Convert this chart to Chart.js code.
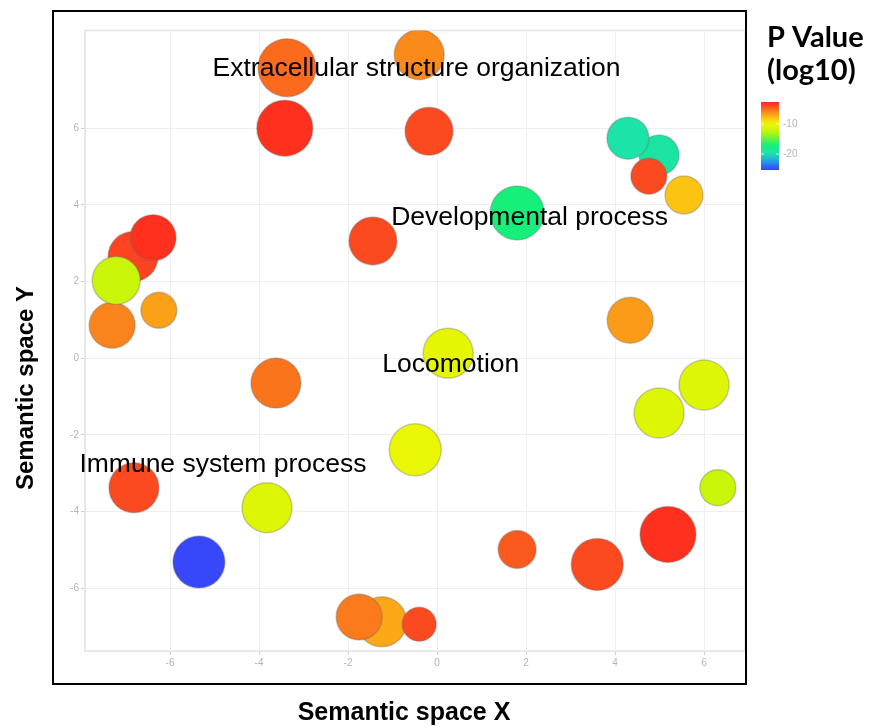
<!DOCTYPE html>
<html>
<head>
<meta charset="utf-8">
<script src="https://cdn.jsdelivr.net/npm/chart.js@4/dist/chart.umd.min.js"></script>
<style>
  html,body{margin:0;padding:0;background:#fff;}
  #wrap{position:relative;width:872px;height:727px;}
  #plot{position:absolute;left:0;top:0;}
  #frame{position:absolute;left:52px;top:10px;width:691px;height:671px;border:2px solid #000;pointer-events:none;}
</style>
</head>
<body>
<div id="wrap">
  <canvas id="plot" width="872" height="727"></canvas>
  <div id="frame"></div>
</div>
<script>
/* REVIGO style semantic space bubble plot */

// GO terms, in drawing order (back to front)
const termX    = [-6.83,-6.38,-7.30,-7.21,-6.25,-3.37,-0.40,-3.42,-0.18, 4.99, 4.29, 4.76, 5.55, 1.80,-1.44, 4.34, 0.25,-3.62, 6.00, 4.99,-0.49,-6.81,-3.82, 6.31, 5.19, 1.80, 3.60,-5.35,-1.24,-1.75,-0.40];
const termY    = [ 2.65, 3.14, 0.86, 2.03, 1.25, 7.58, 7.92, 6.00, 5.92, 5.30, 5.74, 4.75, 4.26, 3.79, 3.06, 0.99, 0.13,-0.65,-0.70,-1.43,-2.39,-3.38,-3.90,-3.38,-4.60,-4.99,-5.38,-5.32,-6.88,-6.75,-6.94];
const termLogP = [-3.8,-3.0,-5.8,-12.0,-6.8,-5.0,-6.0,-3.0,-4.0,-19.2,-19.5,-4.0,-8.0,-17.0,-4.0,-6.6,-10.5,-5.3,-11.0,-11.0,-10.2,-4.0,-11.0,-12.0,-3.0,-4.5,-4.0,-25.0,-7.0,-5.5,-4.0];
const termSize = [25,23,23,24,18,29,25,28,24,20,21,18,19,27,24,23,25,25,25,25,26,25,25,18,28,19,26,26,25,23,17];

const clusterLabels = ['Extracellular structure organization','Developmental process','Locomotion','Immune system process'];
const clusterX = [-0.46, 2.08, 0.31, -4.81];
const clusterY = [ 7.56, 3.66,-0.17, -2.78];

const xTicks = [-6,-4,-2,0,2,4,6];
const yTicks = [-6,-4,-2,0,2,4,6];
const legendTicks = [-10,-20];

// colour scale for log10 p value
const stops = [[-2.7,[255,40,30]],[-4,[251,74,32]],[-6,[250,138,26]],[-8,[252,196,18]],[-10,[238,247,3]],[-12.5,[192,244,10]],[-17,[22,240,122]],[-20,[29,224,176]],[-23,[36,140,240]],[-25.3,[58,62,251]]];
function colorFor(v){
  if(v >= stops[0][0]) return rgb(stops[0][1]);
  for(let i=1;i<stops.length;i++){
    const [v1,c1] = stops[i-1], [v2,c2] = stops[i];
    if(v >= v2){
      const t = (v1 - v)/(v1 - v2);
      return rgb(c1.map((c,k)=>c + (c2[k]-c)*t));
    }
  }
  return rgb(stops[stops.length-1][1]);
}
function rgb(a){ return `rgb(${a.map(Math.round).join(',')})`; }

const points = termX.map((x,i)=>({x, y: termY[i], r: termSize[i]}));

const panelPlugin = {
  id: 'panel',
  beforeDatasetsDraw(chart){
    const {ctx, chartArea:a} = chart;
    ctx.save();
    ctx.strokeStyle = '#e6e6e6';
    ctx.lineWidth = 1.5;
    ctx.strokeRect(a.left, a.top, a.right - a.left, a.bottom - a.top);
    ctx.restore();
  },
  afterDatasetsDraw(chart){
    const {ctx, scales} = chart;
    ctx.save();
    // cluster labels
    ctx.fillStyle = '#000';
    ctx.font = '26.5px "Liberation Sans", Arial, sans-serif';
    ctx.textAlign = 'center';
    ctx.textBaseline = 'middle';
    clusterLabels.forEach((t,i)=>{
      ctx.fillText(t, scales.x.getPixelForValue(clusterX[i]), scales.y.getPixelForValue(clusterY[i]));
    });

    // axis titles
    ctx.font = 'bold 25px "Liberation Sans", Arial, sans-serif';
    ctx.fillText('Semantic space X', 404, 713);
    ctx.save();
    ctx.translate(26, 388);
    ctx.rotate(-Math.PI/2);
    ctx.font = 'bold 24px "Liberation Sans", Arial, sans-serif';
    ctx.fillText('Semantic space Y', 0, 0);
    ctx.restore();

    // colour bar legend
    ctx.textAlign = 'left';
    ctx.textBaseline = 'alphabetic';
    ctx.font = 'bold 29px Lato, "Open Sans", sans-serif';
    ctx.fillText('P Value', 767, 47);
    ctx.fillText('(log10)', 767, 80);
    const top = 102, bottom = 170, left = 761, w = 18;
    const vTop = -2.7, vBot = -25.3;
    const g = ctx.createLinearGradient(0, top, 0, bottom);
    for(let k=0;k<=20;k++){
      const v = vTop + (vBot - vTop)*k/20;
      g.addColorStop(k/20, colorFor(v));
    }
    ctx.fillStyle = g;
    ctx.fillRect(left, top, w, bottom - top);
    ctx.font = '10px "Liberation Sans", Arial, sans-serif';
    ctx.textBaseline = 'middle';
    legendTicks.forEach(v=>{
      const y = top + (vTop - v)/(vTop - vBot)*(bottom - top);
      ctx.strokeStyle = 'rgba(255,255,255,0.8)';
      ctx.beginPath(); ctx.moveTo(left, y); ctx.lineTo(left+3, y); ctx.moveTo(left+w-3, y); ctx.lineTo(left+w, y); ctx.stroke();
      ctx.fillStyle = '#b4b4b4';
      ctx.fillText(String(v), left + w + 4, y);
    });
    ctx.restore();
  }
};

new Chart(document.getElementById('plot'), {
  type: 'bubble',
  data: {
    datasets: [{
      data: points,
      backgroundColor: termLogP.map(colorFor),
      borderColor: 'rgba(110,110,110,0.35)',
      borderWidth: 1.5
    }]
  },
  options: {
    responsive: false,
    animation: false,
    devicePixelRatio: 1,
    events: [],
    layout: { padding: { left: 0, right: 127, top: 28, bottom: 0 } },
    plugins: { legend: { display: false }, tooltip: { enabled: false } },
    scales: {
      x: {
        type: 'linear', min: -7.91, max: 6.92,
        afterBuildTicks: s => { s.ticks = xTicks.map(v=>({value:v})); },
        afterFit: s => { s.height = 76; },
        grid: { color: '#efefef', tickColor: '#cfcfcf', tickLength: 4 },
        border: { display: true, color: '#e2e2e2' },
        ticks: { color: '#b4b4b4', padding: 2, maxRotation: 0, font: { size: 10, family: '"Liberation Sans", Arial' } }
      },
      y: {
        type: 'linear', min: -7.64, max: 8.55,
        afterBuildTicks: s => { s.ticks = yTicks.map(v=>({value:v})); },
        afterFit: s => { s.width = 85; },
        grid: { color: '#efefef', tickColor: '#cfcfcf', tickLength: 4 },
        border: { display: true, color: '#e2e2e2' },
        ticks: { color: '#b4b4b4', padding: 2, font: { size: 10, family: '"Liberation Sans", Arial' } }
      }
    }
  },
  plugins: [panelPlugin]
});
</script>
</body>
</html>
